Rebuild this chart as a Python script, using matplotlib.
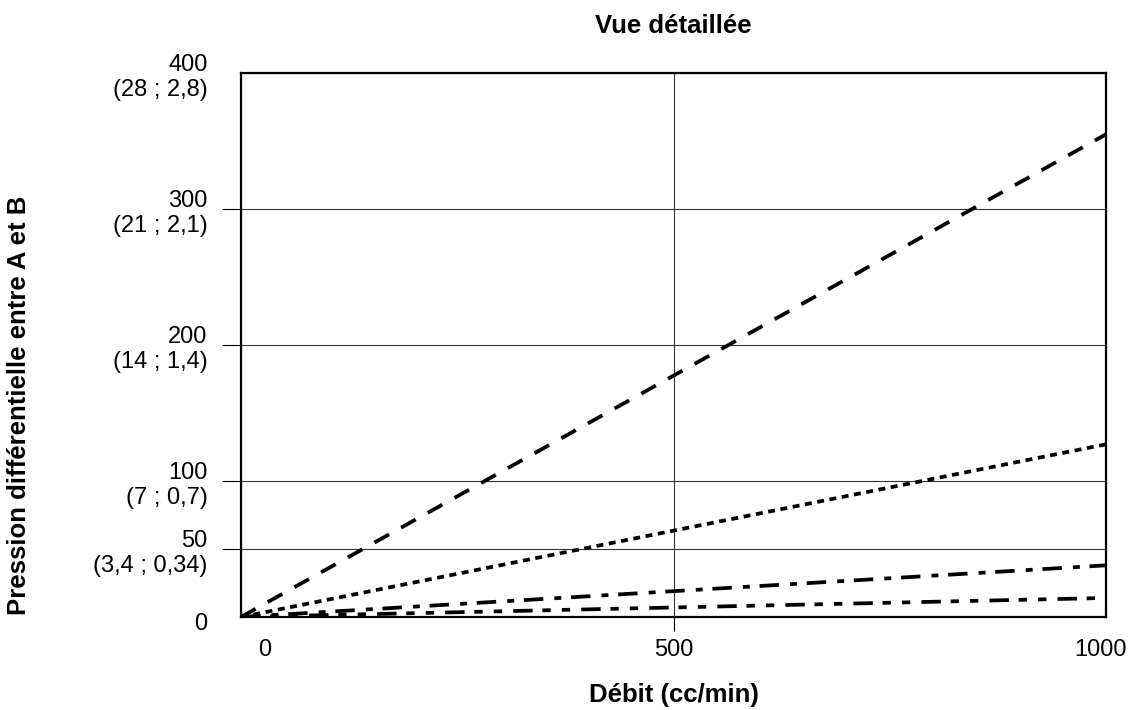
import matplotlib
matplotlib.use("Agg")
import matplotlib.pyplot as plt
import matplotlib.transforms as mtransforms

plt.rcParams['font.family'] = ['Liberation Sans', 'DejaVu Sans']
plt.rcParams['lines.scale_dashes'] = False

# data (debit in cc/min, pression)
debit = [0, 1000]
pression_a = [0, 355]
pression_b = [0, 127]
pression_c = [0, 38]
pression_d = [0, 14]

x_ticks = [0, 500, 1000]
x_labels = ["0", "500", "1000"]
y_ticks = [0, 50, 100, 200, 300, 400]
y_labels = ["0", "50\n(3,4 ; 0,34)", "100\n(7 ; 0,7)", "200\n(14 ; 1,4)",
            "300\n(21 ; 2,1)", "400\n(28 ; 2,8)"]

fig = plt.figure(figsize=(11.29, 7.10), dpi=100)
ax = fig.add_axes([0.2135, 0.131, 0.7661, 0.766])

lw = 2.7
ax.plot(debit, pression_a, color="black", lw=lw, dashes=(12, 10), dash_capstyle="butt")
ax.plot(debit, pression_b, color="black", lw=lw, dashes=(5, 4), dash_capstyle="butt")
ax.plot(debit, pression_c, color="black", lw=lw, dashes=(14, 8, 5, 7), dash_capstyle="butt")
ax.plot(debit, pression_d, color="black", lw=lw, dashes=(14, 7, 6, 8, 6, 8), dash_capstyle="butt")

ax.set_xlim(0, 1000)
ax.set_ylim(0, 400)
ax.set_xticks(x_ticks)
ax.set_xticklabels(x_labels)
ax.set_yticks(y_ticks)
ax.set_yticklabels(y_labels)
ax.grid(True, color="#333333", lw=0.8)
ax.set_axisbelow(True)

for s in ax.spines.values():
    s.set_linewidth(1.6)

ax.tick_params(axis="both", labelsize=17, colors="black", width=0.8)
ax.tick_params(axis="x", length=10, pad=6)
ax.tick_params(axis="y", length=14, pad=10)

# only inner ticks show a tick mark
for t in (ax.xaxis.get_major_ticks()[0], ax.xaxis.get_major_ticks()[-1],
          ax.yaxis.get_major_ticks()[0], ax.yaxis.get_major_ticks()[-1]):
    t.tick1line.set_visible(False)

# shift first/last x labels inward, as in the original
lbls = ax.get_xticklabels()
lbls[0].set_transform(lbls[0].get_transform() + mtransforms.ScaledTranslation(0.24, 0, fig.dpi_scale_trans))
lbls[-1].set_transform(lbls[-1].get_transform() + mtransforms.ScaledTranslation(-0.05, 0, fig.dpi_scale_trans))
ylbls = ax.get_yticklabels()
ylbls[0].set_transform(ylbls[0].get_transform() + mtransforms.ScaledTranslation(0, -0.05, fig.dpi_scale_trans))

ax.set_title("Vue détaillée", fontsize=18.5, fontweight="bold", pad=29)
ax.set_xlabel("Débit (cc/min)", fontsize=18.5, fontweight="bold")
ax.xaxis.set_label_coords(0.5, -0.121)
ax.set_ylabel("Pression différentielle entre A et B", fontsize=18.5, fontweight="bold")
ax.yaxis.set_label_coords(-0.243, 0.39)

fig.savefig("out.png", dpi=100)
